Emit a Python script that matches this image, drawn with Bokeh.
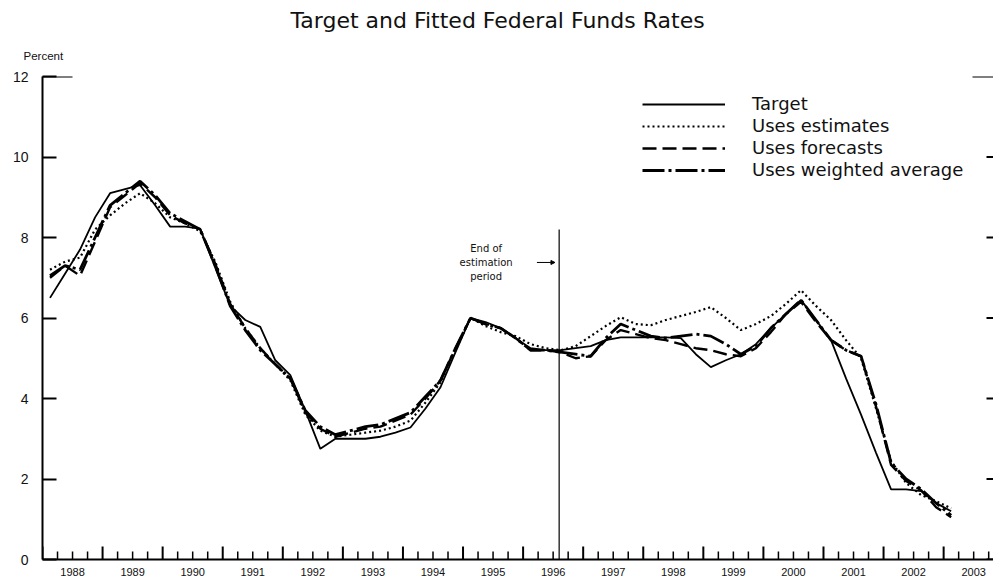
import math
from bokeh.plotting import figure
from bokeh.models import (LinearAxis, FixedTicker, Legend, LegendItem, Label, Arrow,
                          NormalHead, Range1d, Title)
from bokeh.embed import file_html
from bokeh.resources import INLINE

# ---------------- data (quarterly, 1988Q1 .. 2003Q1) ----------------
start_year = 1988
n_quarters = 61

target = [6.5, 7.1, 7.7, 8.5, 9.1, 9.2, 9.3, 8.8, 8.27, 8.27, 8.22, 7.25,
          6.3, 5.95, 5.78, 4.95, 4.58, 3.7, 2.75, 3.0, 3.0, 3.0, 3.05, 3.15,
          3.28, 3.75, 4.28, 5.15, 6.0, 5.9, 5.75, 5.5, 5.25, 5.2, 5.2, 5.25,
          5.3, 5.45, 5.52, 5.52, 5.52, 5.52, 5.5, 5.1, 4.78, 4.95, 5.1, 5.35,
          5.75, 6.1, 6.45, 5.95, 5.45, 4.5, 3.6, 2.65, 1.74, 1.74, 1.7, 1.4, 1.2]

uses_estimates = [7.2, 7.4, 7.5, 8.2, 8.55, 8.85, 9.1, 8.85, 8.5, 8.35, 8.15, 7.4,
                  6.4, 5.75, 5.25, 4.85, 4.45, 3.6, 3.2, 3.05, 3.1, 3.15, 3.2, 3.3,
                  3.45, 3.9, 4.4, 5.2, 6.0, 5.8, 5.65, 5.55, 5.35, 5.25, 5.2, 5.3,
                  5.55, 5.8, 6.02, 5.85, 5.82, 5.95, 6.05, 6.15, 6.27, 6.0, 5.7, 5.85,
                  6.05, 6.35, 6.69, 6.3, 5.95, 5.45, 5.0, 3.75, 2.45, 1.9, 1.6, 1.45, 1.27]

uses_forecasts = [7.0, 7.3, 7.05, 7.9, 8.75, 9.05, 9.35, 9.0, 8.55, 8.35, 8.2, 7.35,
                  6.35, 5.75, 5.25, 4.85, 4.5, 3.65, 3.25, 3.05, 3.15, 3.25, 3.3, 3.45,
                  3.6, 4.0, 4.45, 5.25, 6.0, 5.85, 5.75, 5.5, 5.2, 5.2, 5.15, 5.0,
                  5.05, 5.45, 5.7, 5.6, 5.5, 5.45, 5.35, 5.25, 5.2, 5.1, 5.05, 5.25,
                  5.65, 6.1, 6.4, 5.9, 5.45, 5.2, 5.05, 3.8, 2.35, 1.95, 1.72, 1.3, 1.05]

uses_weighted_average = [7.05, 7.3, 7.2, 8.0, 8.8, 9.1, 9.4, 9.05, 8.6, 8.4, 8.2, 7.3,
                         6.3, 5.7, 5.2, 4.85, 4.5, 3.7, 3.3, 3.1, 3.2, 3.3, 3.35, 3.5,
                         3.65, 4.05, 4.45, 5.25, 6.0, 5.85, 5.75, 5.5, 5.2, 5.2, 5.15, 5.1,
                         5.05, 5.5, 5.85, 5.7, 5.55, 5.5, 5.55, 5.6, 5.55, 5.35, 5.1, 5.3,
                         5.75, 6.1, 6.45, 5.95, 5.45, 5.2, 5.05, 3.85, 2.4, 2.0, 1.75, 1.4, 1.1]

year_labels = [str(y) for y in range(1988, 2004)]
y_ticks = [0, 2, 4, 6, 8, 10, 12]
estimation_end = 1996.6
estimation_line_top = 8.2

# quarter mid-points as decimal years
t = [start_year + 0.125 + 0.25 * i for i in range(n_quarters)]

FONT = "Liberation Sans"
WIDE = "DejaVu Sans"
X_START, X_END = 1988.0, 2003.83
Y_START, Y_END = 0, 12

p = figure(width=993, height=586, output_backend="svg", toolbar_location=None,
           x_axis_type=None, y_axis_type=None,
           x_range=Range1d(X_START, X_END), y_range=Range1d(Y_START, Y_END),
           min_border_left=42, min_border_right=0, min_border_top=76,
           min_border_bottom=27)
p.outline_line_color = None
p.xgrid.visible = False
p.ygrid.visible = False
p.background_fill_color = "white"

# "Percent" unit label (nearest the frame) and main title above it
p.add_layout(Title(text="Percent", align="left", offset=-19, standoff=30,
                   text_font=FONT, text_font_size="11.5px", text_font_style="normal",
                   text_color="#111111"), "above")
p.title.text = "Target and Fitted Federal Funds Rates"
p.title.align = "left"
p.title.offset = 248
p.title.standoff = 0
p.title.text_font = WIDE
p.title.text_font_size = "22px"
p.title.text_font_style = "normal"
p.title.text_color = "#111111"

# lines
r_t = p.line(t, target, line_color="black", line_width=1.8)
r_e = p.line(t, uses_estimates, line_color="black", line_width=2.2, line_dash="2 3")
r_f = p.line(t, uses_forecasts, line_color="black", line_width=2.4, line_dash="14 6")
r_w = p.line(t, uses_weighted_average, line_color="black", line_width=2.8,
             line_dash="22 4 3 4")

# end of estimation period line
p.segment(x0=[estimation_end], y0=[Y_START], x1=[estimation_end], y1=[estimation_line_top],
          line_color="black", line_width=1.2)
p.add_layout(Label(x=estimation_end, y=7.38, x_offset=-73,
                   text="End of\nestimation\nperiod", text_align="center",
                   text_baseline="middle", text_font=WIDE, text_font_size="10px",
                   text_line_height=1.25, text_color="#111111"))
p.add_layout(Arrow(x_start=estimation_end - 0.37, y_start=7.38,
                   x_end=estimation_end - 0.07, y_end=7.38,
                   line_width=1, line_color="black",
                   end=NormalHead(size=4, line_color="black", fill_color="black")))

# bottom tick marks (year boundaries tall, quarters short), drawn inward
year_bounds = list(range(1988, 2004))
quarters = [y + q * 0.25 for y in range(1988, 2004) for q in (1, 2, 3)]
p.scatter(x=year_bounds, y=[Y_START] * len(year_bounds), marker="dash", angle=math.pi / 2,
          size=26, line_width=2, line_color="black")
p.scatter(x=quarters, y=[Y_START] * len(quarters), marker="dash", angle=math.pi / 2,
          size=16, line_width=1.5, line_color="black")
# right-hand tick marks and top corner marks
p.scatter(x=[X_END] * len(y_ticks[:-1]), y=y_ticks[:-1], marker="dash", size=14,
          line_width=2, line_color="black")
p.scatter(x=[X_END], y=[Y_END], marker="dash", size=42, line_width=2, line_color="black")
p.scatter(x=[X_START], y=[Y_END], marker="dash", size=60, line_width=2, line_color="black")

# bottom axis: year labels at mid-year
mid_years = [y + 0.5 for y in range(1988, 2004)]
xl = LinearAxis(ticker=FixedTicker(ticks=mid_years))
xl.major_label_overrides = {m: lab for m, lab in zip(mid_years, year_labels)}
xl.major_tick_in = 0
xl.major_tick_out = 0
xl.minor_tick_line_color = None
xl.axis_line_width = 2
xl.major_label_standoff = 8
xl.major_label_text_font = FONT
xl.major_label_text_font_size = "11px"
xl.major_label_text_color = "#111111"
p.add_layout(xl, "below")

ya = LinearAxis(ticker=FixedTicker(ticks=y_ticks))
ya.major_tick_in = 14
ya.major_tick_out = 0
ya.minor_tick_line_color = None
ya.axis_line_width = 2
ya.major_tick_line_width = 2
ya.major_label_standoff = 14
ya.major_label_text_font = FONT
ya.major_label_text_font_size = "14px"
ya.major_label_text_color = "#111111"
p.add_layout(ya, "left")

legend = Legend(items=[LegendItem(label="Target", renderers=[r_t]),
                       LegendItem(label="Uses estimates", renderers=[r_e]),
                       LegendItem(label="Uses forecasts", renderers=[r_f]),
                       LegendItem(label="Uses weighted average", renderers=[r_w])],
                location=(600, 379), orientation="vertical")
legend.glyph_width = 83
legend.glyph_height = 20
legend.label_height = 20
legend.label_standoff = 27
legend.spacing = 1
legend.padding = 0
legend.margin = 0
legend.border_line_color = None
legend.background_fill_alpha = 0
legend.label_text_font = WIDE
legend.label_text_font_size = "18px"
legend.label_text_color = "#111111"
p.add_layout(legend, "center")

open("out.html", "w").write(file_html(p, INLINE))
